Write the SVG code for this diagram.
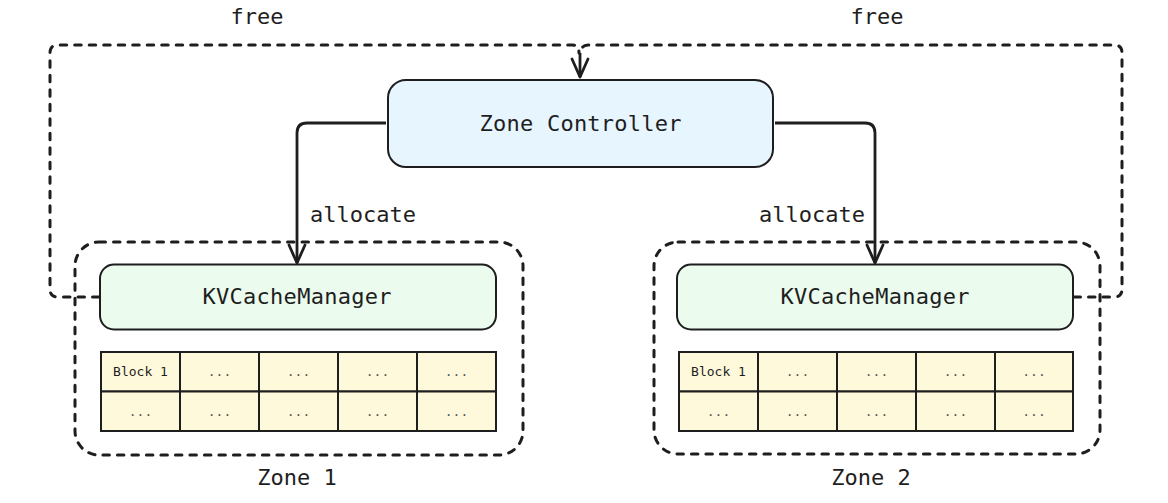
<svg xmlns="http://www.w3.org/2000/svg" width="1168" height="503" viewBox="0 0 1168 503">
<defs>
<style>
.t{font-family:"DejaVu Sans Mono","Liberation Mono",monospace;fill:#1e1e1e;}
.big{font-size:22px;}
.sm{font-size:13px;}
.dots{font-size:13px;fill:#555;}
.dash{fill:none;stroke:#1e1e1e;stroke-width:3;stroke-dasharray:6.5 8;stroke-linecap:round;stroke-linejoin:round;}
.solid{fill:none;stroke:#1e1e1e;stroke-width:2.8;stroke-linejoin:round;}
.cell{fill:#fff9db;stroke:#1e1e1e;stroke-width:2;}
</style>
<marker id="ah" viewBox="-2 -2 22 20" refX="18" refY="8" markerWidth="22" markerHeight="20" markerUnits="userSpaceOnUse" orient="auto">
<path d="M0,0 L18,8 L0,16" fill="none" stroke="#1e1e1e" stroke-width="2.8" stroke-linecap="round" stroke-linejoin="round"/>
</marker>
</defs>
<rect width="1168" height="503" fill="#ffffff"/>

<g id="zone1">
<rect x="75" y="242" width="448" height="213" rx="24" class="dash"/>
<text x="297" y="485" text-anchor="middle" class="t big">Zone 1</text>
</g>
<g id="zone2">
<rect x="654" y="242" width="446" height="212" rx="24" class="dash"/>
<text x="871" y="485" text-anchor="middle" class="t big">Zone 2</text>
</g>

<g id="zone-controller">
<rect x="388" y="80" width="385" height="87" rx="18" fill="#e7f5ff" stroke="#1e1e1e" stroke-width="2"/>
<text x="580.5" y="131" text-anchor="middle" class="t big" textLength="202" lengthAdjust="spacing">Zone Controller</text>
</g>

<g id="kvcache1">
<rect x="100" y="264.5" width="396" height="65" rx="14" fill="#ebfbee" stroke="#1e1e1e" stroke-width="2"/>
<text x="297" y="304" text-anchor="middle" class="t big" textLength="189" lengthAdjust="spacing">KVCacheManager</text>
</g>
<g id="kvcache2">
<rect x="677" y="264.5" width="396" height="65" rx="14" fill="#ebfbee" stroke="#1e1e1e" stroke-width="2"/>
<text x="875" y="304" text-anchor="middle" class="t big" textLength="189" lengthAdjust="spacing">KVCacheManager</text>
</g>

<g id="blocks1">
<rect x="101" y="352" width="79" height="39.5" class="cell"/>
<rect x="180" y="352" width="79" height="39.5" class="cell"/>
<rect x="259" y="352" width="79" height="39.5" class="cell"/>
<rect x="338" y="352" width="79" height="39.5" class="cell"/>
<rect x="417" y="352" width="79" height="39.5" class="cell"/>
<rect x="101" y="391.5" width="79" height="39.5" class="cell"/>
<rect x="180" y="391.5" width="79" height="39.5" class="cell"/>
<rect x="259" y="391.5" width="79" height="39.5" class="cell"/>
<rect x="338" y="391.5" width="79" height="39.5" class="cell"/>
<rect x="417" y="391.5" width="79" height="39.5" class="cell"/>
<text x="140.5" y="376" text-anchor="middle" class="t sm">Block 1</text>
<text x="219.5" y="376" text-anchor="middle" class="t dots">...</text>
<text x="298.5" y="376" text-anchor="middle" class="t dots">...</text>
<text x="377.5" y="376" text-anchor="middle" class="t dots">...</text>
<text x="456.5" y="376" text-anchor="middle" class="t dots">...</text>
<text x="140.5" y="415.5" text-anchor="middle" class="t dots">...</text>
<text x="219.5" y="415.5" text-anchor="middle" class="t dots">...</text>
<text x="298.5" y="415.5" text-anchor="middle" class="t dots">...</text>
<text x="377.5" y="415.5" text-anchor="middle" class="t dots">...</text>
<text x="456.5" y="415.5" text-anchor="middle" class="t dots">...</text>
</g>
<g id="blocks2">
<rect x="679" y="352" width="79" height="39.5" class="cell"/>
<rect x="758" y="352" width="79" height="39.5" class="cell"/>
<rect x="837" y="352" width="79" height="39.5" class="cell"/>
<rect x="916" y="352" width="79" height="39.5" class="cell"/>
<rect x="995" y="352" width="78" height="39.5" class="cell"/>
<rect x="679" y="391.5" width="79" height="39.5" class="cell"/>
<rect x="758" y="391.5" width="79" height="39.5" class="cell"/>
<rect x="837" y="391.5" width="79" height="39.5" class="cell"/>
<rect x="916" y="391.5" width="79" height="39.5" class="cell"/>
<rect x="995" y="391.5" width="78" height="39.5" class="cell"/>
<text x="718.5" y="376" text-anchor="middle" class="t sm">Block 1</text>
<text x="797.5" y="376" text-anchor="middle" class="t dots">...</text>
<text x="876.5" y="376" text-anchor="middle" class="t dots">...</text>
<text x="955.5" y="376" text-anchor="middle" class="t dots">...</text>
<text x="1034" y="376" text-anchor="middle" class="t dots">...</text>
<text x="718.5" y="415.5" text-anchor="middle" class="t dots">...</text>
<text x="797.5" y="415.5" text-anchor="middle" class="t dots">...</text>
<text x="876.5" y="415.5" text-anchor="middle" class="t dots">...</text>
<text x="955.5" y="415.5" text-anchor="middle" class="t dots">...</text>
<text x="1034" y="415.5" text-anchor="middle" class="t dots">...</text>
</g>

<g id="connectors">
<path d="M386,123 L307,123 Q297,123 297,133 L297,263" class="solid" marker-end="url(#ah)"/>
<path d="M775,123 L865,123 Q875,123 875,133 L875,263" class="solid" marker-end="url(#ah)"/>
<path d="M99,297 L58,297 Q50,297 50,289 L50,53 Q50,45 58,45 L572,45 Q579,45 579,53" class="dash"/>
<path d="M1074,297 L1114,297 Q1122,297 1122,289 L1122,53 Q1122,45 1114,45 L588,45 Q581,45 581,53" class="dash"/>
<path d="M580,53 L580,77" class="solid" marker-end="url(#ah)"/>
<text x="310" y="222" class="t big">allocate</text>
<text x="865" y="222" text-anchor="end" class="t big">allocate</text>
<text x="257" y="24" text-anchor="middle" class="t big">free</text>
<text x="877" y="24" text-anchor="middle" class="t big">free</text>
</g>
</svg>
